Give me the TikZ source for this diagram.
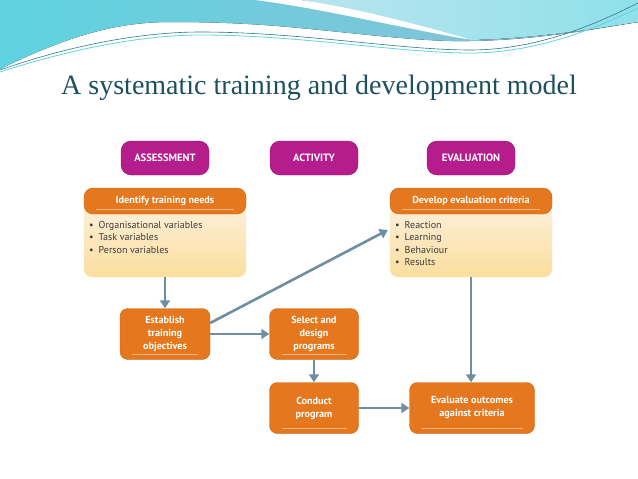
\documentclass[tikz,border=0pt]{standalone}
\usepackage{fontspec}
\setmainfont{Liberation Serif}
\setsansfont{PT Sans}
\usetikzlibrary{arrows.meta,positioning}
\definecolor{stagemag}{HTML}{B51C8C}
\definecolor{stepor}{HTML}{E5781E}
\definecolor{bodytop}{HTML}{FDF0DA}
\definecolor{bodybot}{HTML}{FBDE9E}
\definecolor{flowcol}{HTML}{6E8EA2}
\definecolor{titlecol}{HTML}{1D4F5E}
\definecolor{listcol}{HTML}{3C3C3C}
\definecolor{wavecyan}{HTML}{5FD3E1}
\definecolor{waveblue}{HTML}{8CBFD5}
\definecolor{wavelight}{HTML}{A9DEEA}
\begin{document}
\begin{tikzpicture}[x=1pt,y=-1pt,>=Latex,
  every node/.style={font=\sffamily},
  stage/.style={fill=stagemag,draw=stagemag!80!black,rounded corners=10pt,
    minimum width=88pt,minimum height=34pt,text=white,font=\sffamily\bfseries\fontsize{10.6}{12}\selectfont},
  stepbox/.style={fill=stepor,draw=stepor!85!black,rounded corners=8pt,
    minimum height=51pt,text=white,align=center,
    font=\sffamily\bfseries\fontsize{10.2}{13}\selectfont,
    path picture={\draw[white,opacity=.45,line width=.6pt]
      ([xshift=12pt,yshift=5pt]path picture bounding box.south west) --
      ([xshift=-12pt,yshift=5pt]path picture bounding box.south east);}},
  header/.style={stepbox,minimum width=162pt,minimum height=26pt,rounded corners=9pt},
  listbody/.style={draw=bodybot!70!white,top color=bodytop,bottom color=bodybot,
    rounded corners=8pt,minimum width=162pt,minimum height=72pt},
  bullets/.style={anchor=north west,inner sep=0pt,align=left,text=listcol,
    font=\sffamily\fontsize{10}{12.4}\selectfont},
  flow/.style={->,draw=flowcol,line width=2.6pt,
    arrows={-Triangle[length=8pt,width=10pt]}}]
\useasboundingbox (0,0) rectangle (638,479);
% wave at the top
\fill[left color=wavecyan,right color=waveblue] (0,0) -- (0,69)
  .. controls (60,40) and (110,22) .. (170,22)
  .. controls (240,22) and (280,26) .. (320,30)
  .. controls (380,36) and (430,42) .. (470,41)
  .. controls (540,40) and (600,28) .. (638,22) -- (638,0) -- cycle;
\fill[left color=wavelight!80!white,right color=wavecyan!70!white]
  (300,0) .. controls (360,10) and (420,28) .. (472,40)
  .. controls (540,38) and (600,28) .. (638,22) -- (638,0) -- cycle;
\fill[white] (255,0) .. controls (320,8) and (400,28) .. (472,40)
  .. controls (410,22) and (345,6) .. (300,0) -- cycle;
\draw[titlecol!70!wavecyan,line width=.6pt] (0,70)
  .. controls (80,42) and (150,32) .. (200,32)
  .. controls (300,32) and (400,50) .. (470,50)
  .. controls (540,50) and (600,22) .. (638,3);
\draw[wavecyan,line width=.8pt] (0,72)
  .. controls (80,46) and (150,35) .. (200,35)
  .. controls (300,35) and (400,53) .. (470,53)
  .. controls (540,53) and (600,26) .. (638,8);
% title
\node[font=\rmfamily\fontsize{28}{32}\selectfont,text=titlecol] (title) at (319,88)
  {A systematic training and development model};
% stages
\node[stage] (assess) at (165,158) {ASSESSMENT};
\node[stage] (activity) at (314,158) {ACTIVITY};
\node[stage] (evaluation) at (471,158) {EVALUATION};
% needs analysis
\node[listbody] (needsbody) at (165,241) {};
\node[header] (needs) at (165,201) {Identify training needs};
\node[bullets] (needslist) at (89,221) {\textbullet\hspace{5pt}Organisational variables\\
  \textbullet\hspace{5pt}Task variables\\ \textbullet\hspace{5pt}Person variables};
% evaluation criteria
\node[listbody] (critbody) at (471,241) {};
\node[header] (crit) at (471,201) {Develop evaluation criteria};
\node[bullets] (critlist) at (395,221) {\textbullet\hspace{5pt}Reaction\\
  \textbullet\hspace{5pt}Learning\\ \textbullet\hspace{5pt}Behaviour\\ \textbullet\hspace{5pt}Results};
% steps
\node[stepbox,minimum width=90pt] (objectives) at (165,334) {Establish\\ training\\ objectives};
\node[stepbox,minimum width=89pt] (design) at (314,334) {Select and\\ design\\ programs};
\node[stepbox,minimum width=89pt] (conduct) at (314,408) {Conduct\\ program};
\node[stepbox,minimum width=125pt] (outcomes) at (472,408) {Evaluate outcomes\\ against criteria};
% arrows
\draw[flow] (needsbody.south) -- (objectives.north);
\draw[flow] ([yshift=11pt]objectives.east) -- ([yshift=11pt,xshift=-2pt]critbody.west);
\draw[flow] (objectives.east) -- (design.west);
\draw[flow] (design.south) -- (conduct.north);
\draw[flow] (conduct.east) -- (outcomes.west);
\draw[flow] (critbody.south) -- (critbody.south |- outcomes.north);
\end{tikzpicture}
\end{document}
